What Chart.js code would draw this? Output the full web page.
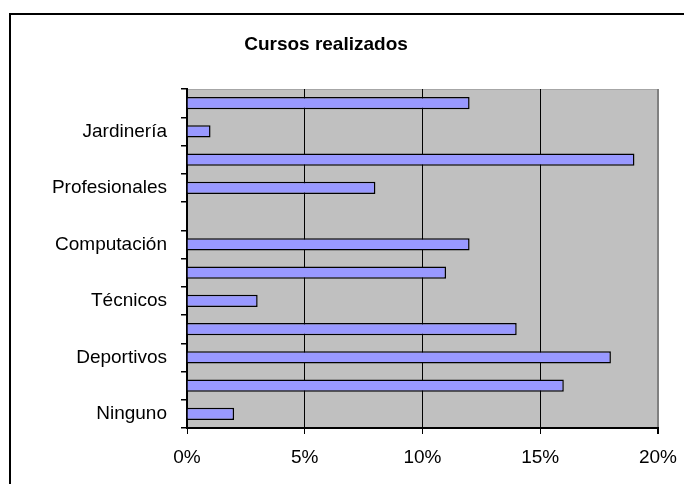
<!DOCTYPE html>
<html>
<head>
<meta charset="utf-8">
<script src="https://cdn.jsdelivr.net/npm/chart.js@4"></script>
<style>
  html, body { margin: 0; padding: 0; background: #ffffff; }
  #cont { width: 684px; height: 484px; }
</style>
</head>
<body>
<div id="cont"><canvas id="grafico"></canvas></div>
<script>
// Categorías (de abajo hacia arriba, como en Excel)
var categorias = [
  'Ninguno', 'Idiomas', 'Deportivos', 'Artísticos', 'Técnicos', 'Administrativos',
  'Computación', 'Manualidades', 'Profesionales', 'Cocina', 'Jardinería', 'Otros'
];
// Porcentaje de personas por tipo de curso
var porcentajes = [2, 16, 18, 14, 3, 11, 12, 0, 8, 19, 1, 12];
var ticksX = [0, 5, 10, 15, 20];
var titulo = 'Cursos realizados';

var fuente = '"Liberation Sans", Arial, sans-serif';

// Marco, fondo gris del área de trazado y título
var decoracion = {
  id: 'decoracion',
  beforeDraw: function (chart) {
    var ctx = chart.ctx;
    var a = chart.chartArea;
    ctx.save();
    ctx.fillStyle = '#ffffff';
    ctx.fillRect(0, 0, chart.width, chart.height);
    ctx.strokeStyle = '#000000';
    ctx.lineWidth = 2;
    ctx.beginPath();
    ctx.moveTo(10, chart.height + 5);
    ctx.lineTo(10, 14);
    ctx.lineTo(chart.width + 5, 14);
    ctx.stroke();
    ctx.fillStyle = '#c0c0c0';
    ctx.fillRect(a.left, a.top, a.right - a.left, a.bottom - a.top);
    ctx.strokeStyle = '#a6a6a6';
    ctx.lineWidth = 1;
    ctx.strokeRect(a.left + 0.5, a.top + 0.5, a.right - a.left - 1, a.bottom - a.top - 1);
    ctx.fillStyle = '#000000';
    ctx.font = 'bold 19px ' + fuente;
    ctx.textAlign = 'center';
    ctx.textBaseline = 'middle';
    ctx.fillText(titulo, 326, 45);
    ctx.restore();
  }
};

new Chart(document.getElementById('grafico'), {
  type: 'bar',
  data: {
    labels: categorias,
    datasets: [{
      label: titulo,
      data: porcentajes,
      backgroundColor: '#9999ff',
      borderColor: '#000000',
      borderWidth: 1.5,
      borderSkipped: 'start',
      categoryPercentage: 0.85,
      barPercentage: 0.5
    }]
  },
  options: {
    indexAxis: 'y',
    responsive: true,
    maintainAspectRatio: false,
    animation: false,
    layout: { padding: { top: 89, right: 26, left: 0, bottom: 0 } },
    plugins: {
      legend: { display: false },
      title: { display: false },
      tooltip: { enabled: false }
    },
    scales: {
      x: {
        min: 0,
        max: 20,
        afterBuildTicks: function (scale) {
          scale.ticks = ticksX.map(function (v) { return { value: v }; });
        },
        afterFit: function (scale) {
          scale.height = 56;
          scale.paddingLeft = 0;
          scale.paddingRight = 0;
        },
        ticks: {
          color: '#000000',
          font: { family: fuente, size: 19 },
          padding: 12,
          callback: function (v) { return v + '%'; }
        },
        grid: {
          color: function (c) { return c.tick && c.tick.value === 20 ? '#808080' : '#000000'; },
          lineWidth: function (c) { return c.tick && c.tick.value === 20 ? 2 : 1; },
          tickColor: '#000000',
          tickLength: 6
        },
        border: { display: true, color: '#000000', width: 2 }
      },
      y: {
        reverse: true,
        afterFit: function (scale) { scale.width = 187; },
        ticks: {
          autoSkip: false,
          color: '#000000',
          font: { family: fuente, size: 19 },
          padding: 14,
          callback: function (v, i) { return i % 2 === 0 ? this.getLabelForValue(v) : ''; }
        },
        grid: {
          offset: true,
          drawOnChartArea: false,
          tickColor: '#000000',
          tickLength: 6,
          lineWidth: 1.5
        },
        border: { display: true, color: '#000000', width: 2 }
      }
    }
  },
  plugins: [decoracion]
});
</script>
</body>
</html>
